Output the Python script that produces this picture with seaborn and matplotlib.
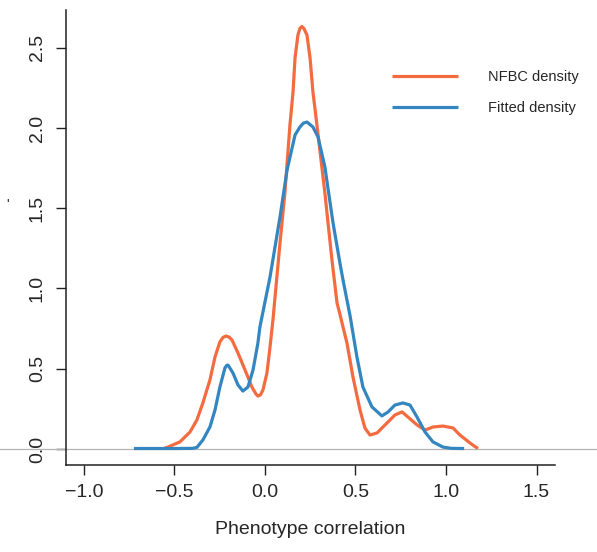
import numpy as np
import pandas as pd
import matplotlib
matplotlib.use("Agg")
import matplotlib.pyplot as plt
import seaborn as sns

# NFBC density curve
nfbc_x = [-0.560, -0.541, -0.470, -0.414, -0.376, -0.343, -0.304, -0.276, -0.249, -0.232,
          -0.215, -0.198, -0.182, -0.149, -0.110, -0.072, -0.050, -0.039, -0.025, -0.011,
          0.011, 0.028, 0.044, 0.083, 0.110, 0.138, 0.155, 0.166, 0.182, 0.193,
          0.204, 0.215, 0.232, 0.249, 0.265, 0.287, 0.331, 0.370, 0.398, 0.414,
          0.431, 0.453, 0.486, 0.525, 0.552, 0.580, 0.619, 0.674, 0.718, 0.757,
          0.790, 0.840, 0.884, 0.928, 0.983, 1.039, 1.077, 1.133, 1.160, 1.177]
nfbc_y = [0.003, 0.010, 0.044, 0.106, 0.181, 0.287, 0.430, 0.573, 0.667, 0.695,
          0.704, 0.697, 0.679, 0.598, 0.492, 0.386, 0.343, 0.330, 0.337, 0.368,
          0.474, 0.636, 0.804, 1.283, 1.595, 2.019, 2.224, 2.436, 2.579, 2.620,
          2.632, 2.620, 2.579, 2.436, 2.224, 2.019, 1.595, 1.178, 0.910, 0.840,
          0.760, 0.660, 0.449, 0.243, 0.131, 0.087, 0.100, 0.162, 0.212, 0.231,
          0.199, 0.150, 0.118, 0.137, 0.143, 0.131, 0.087, 0.037, 0.015, 0.004]

# Fitted density curve
fit_x = [-0.724, -0.500, -0.400, -0.376, -0.343, -0.304, -0.276, -0.249, -0.221, -0.212,
         -0.204, -0.177, -0.149, -0.122, -0.094, -0.066, -0.039, -0.028, 0.028, 0.083,
         0.122, 0.166, 0.193, 0.212, 0.232, 0.265, 0.293, 0.331, 0.376, 0.414,
         0.431, 0.470, 0.508, 0.541, 0.591, 0.646, 0.680, 0.718, 0.762, 0.801,
         0.840, 0.884, 0.928, 0.983, 1.030, 1.100]
fit_y = [0.003, 0.003, 0.004, 0.010, 0.056, 0.137, 0.243, 0.386, 0.505, 0.520,
         0.523, 0.474, 0.399, 0.361, 0.386, 0.492, 0.660, 0.760, 1.072, 1.445,
         1.738, 1.956, 2.006, 2.030, 2.037, 2.006, 1.944, 1.757, 1.408, 1.159,
         1.053, 0.830, 0.573, 0.386, 0.262, 0.206, 0.231, 0.274, 0.287, 0.274,
         0.199, 0.106, 0.044, 0.012, 0.004, 0.003]

series_names = ["NFBC density", "Fitted density"]
colors = ["#F46B3F", "#3486C0"]
x_ticks = [-1.0, -0.5, 0.0, 0.5, 1.0, 1.5]
y_ticks = [0.0, 0.5, 1.0, 1.5, 2.0, 2.5]

df = pd.concat([
    pd.DataFrame({"x": nfbc_x, "y": nfbc_y, "series": series_names[0]}),
    pd.DataFrame({"x": fit_x, "y": fit_y, "series": series_names[1]}),
], ignore_index=True)

sns.set_style("ticks")
plt.rcParams["font.family"] = ["Liberation Sans", "DejaVu Sans"]

fig = plt.figure(figsize=(5.97, 5.52), dpi=100)
ax = fig.add_axes([66/597, 1-465/552, (555-66)/597, (465-10)/552])

ax.axhline(0, xmin=-0.14, xmax=1.1, color="#b3b3b3", lw=0.9, clip_on=False, zorder=1)

sns.lineplot(data=df, x="x", y="y", hue="series", palette=dict(zip(series_names, colors)),
             sort=False, estimator=None, lw=2.3, ax=ax, zorder=3,
             solid_joinstyle="round", solid_capstyle="butt")

ax.set_xlim(-1.099, 1.602)
ax.set_ylim(-0.0997, 2.735)
ax.set_xticks(x_ticks)
ax.set_yticks(y_ticks)
ax.set_xticklabels([f"{v:.1f}".replace("-", "\u2212") for v in x_ticks], fontsize=14)
ax.set_yticklabels([f"{v:.1f}" for v in y_ticks], fontsize=14, rotation=90, va="center")
ax.tick_params(axis="both", direction="out", length=7, width=1.0, color="#222222")
ax.tick_params(axis="x", pad=7)
ax.tick_params(axis="y", pad=7.5)
for s in ["top", "right"]:
    ax.spines[s].set_visible(False)
for s in ["left", "bottom"]:
    ax.spines[s].set_linewidth(1.1)
    ax.spines[s].set_color("#222222")

ax.set_xlabel("Phenotype correlation", fontsize=14, labelpad=14)
ax.set_ylabel("")
fig.text(8/597, 1-205/552, "'", fontsize=10, ha="center", va="center")

handles, labels = ax.get_legend_handles_labels()
leg = ax.legend(handles, labels, loc="upper left", bbox_to_anchor=((392-66)/489, (465-70)/455),
                frameon=False, fontsize=10.5, handlelength=4.5, handletextpad=2.1,
                labelspacing=1.15, borderpad=0, borderaxespad=0)
for h in leg.get_lines():
    h.set_linewidth(2.3)

fig.savefig("out.png", dpi=100)
